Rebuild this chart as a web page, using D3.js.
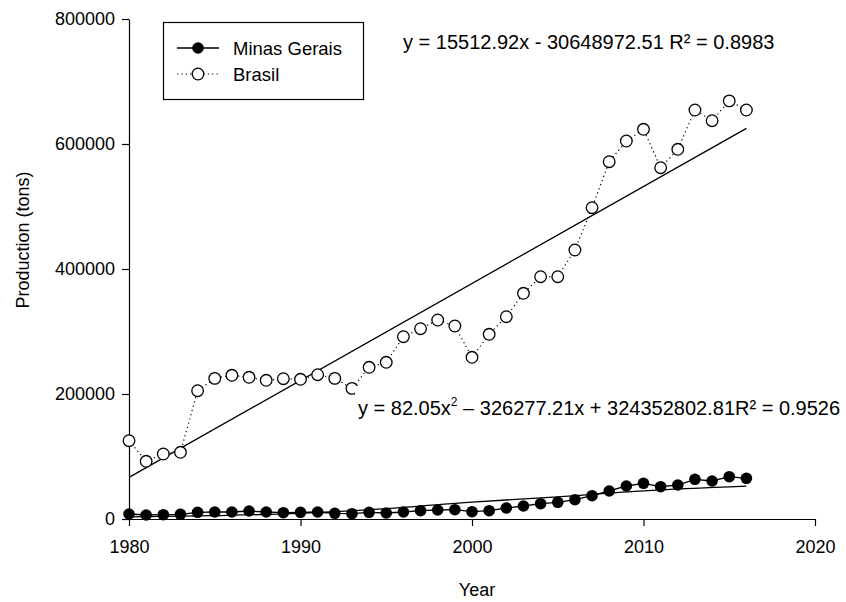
<!DOCTYPE html>
<html>
<head>
<meta charset="utf-8">
<script src="https://cdn.jsdelivr.net/npm/d3@7"></script>
<style>
  html, body { margin: 0; padding: 0; background: #fff; }
  svg { display: block; font-family: "Liberation Sans", Arial, sans-serif; }
</style>
</head>
<body>
<svg id="chart" width="846" height="602"></svg>
<script>
// ---- data ----
const years = [1980,1981,1982,1983,1984,1985,1986,1987,1988,1989,1990,1991,1992,1993,1994,1995,1996,1997,1998,1999,2000,2001,2002,2003,2004,2005,2006,2007,2008,2009,2010,2011,2012,2013,2014,2015,2016];
const minasGerais = [8000,6400,6900,7500,10700,11200,11200,12800,11200,10100,10700,11200,9100,8500,10700,9600,11200,13300,14400,14900,11700,13300,17600,20800,24500,26700,30900,37300,44800,52800,57100,51700,54400,63500,60800,67700,65100];
const brasil = [125300,92300,104000,106700,205300,225000,229900,226700,221900,224500,223500,230900,225000,209000,242700,250700,291700,304500,318400,308800,258700,295500,323700,361100,387700,387700,430400,498100,571700,604800,623500,562100,591500,654400,637300,669000,654400];
// fitted curves as drawn in the picture
const brasilFitYears = [1980, 2016];
const brasilFitValues = [66600, 625100];
const mgFitYears = [1980, 1985, 1990, 1995, 2000, 2005, 2010, 2016];
const mgFitValues = [3500, 5500, 9000, 16500, 27000, 35500, 45000, 52500];
const xTicks = [1980, 1990, 2000, 2010, 2020];
const yTicks = [0, 200000, 400000, 600000, 800000];
const seriesNames = ["Minas Gerais", "Brasil"];
const eqBrasil = "y = 15512.92x - 30648972.51 R² = 0.8983";
const eqMG = ["y = 82.05x", "2", " – 326277.21x + 324352802.81R² = 0.9526"];

// ---- layout ----
const svg = d3.select("#chart");
const x = d3.scaleLinear().domain([1980, 2020]).range([129, 815]);
const y = d3.scaleLinear().domain([0, 800000]).range([519, 19]);
const ink = "#000";

// axes
const yAxis = d3.axisLeft(y).tickValues(yTicks).tickFormat(d3.format("d")).tickSize(7).tickSizeOuter(0).tickPadding(7);
const xAxis = d3.axisBottom(x).tickValues(xTicks).tickFormat(d3.format("d")).tickSize(7).tickSizeOuter(0).tickPadding(14);

const gy = svg.append("g").attr("transform", `translate(${x.range()[0]},0)`).call(yAxis);
const gx = svg.append("g").attr("transform", `translate(0,${y.range()[0]})`).call(xAxis);
[gx, gy].forEach(g => {
  g.selectAll("path, line").attr("stroke", ink).attr("stroke-width", 1.2);
  g.selectAll("text").attr("fill", ink).style("font-size", "18px").style("font-family", '"Liberation Sans", Arial, sans-serif');
});

// axis titles
svg.append("text").attr("x", 477).attr("y", 596)
  .attr("text-anchor", "middle").style("font-size", "18px").text("Year");
svg.append("text").attr("transform", `translate(29,240) rotate(-90)`)
  .attr("text-anchor", "middle").style("font-size", "18px").text("Production (tons)");

// fitted lines
const lineGen = d3.line().x(d => x(d[0])).y(d => y(d[1]));
svg.append("path").datum(brasilFitYears.map((yr, i) => [yr, brasilFitValues[i]]))
  .attr("d", lineGen).attr("fill", "none").attr("stroke", ink).attr("stroke-width", 1.3);
svg.append("path").datum(mgFitYears.map((yr, i) => [yr, mgFitValues[i]]))
  .attr("d", lineGen.curve(d3.curveMonotoneX)).attr("fill", "none").attr("stroke", ink).attr("stroke-width", 1.3);
lineGen.curve(d3.curveLinear);

// Brasil dotted series
const bData = years.map((yr, i) => [yr, brasil[i]]);
svg.append("path").datum(bData).attr("d", lineGen).attr("fill", "none")
  .attr("stroke", ink).attr("stroke-width", 1.2).attr("stroke-dasharray", "1.2,3.2");
svg.append("g").selectAll("circle").data(bData).join("circle")
  .attr("cx", d => x(d[0])).attr("cy", d => y(d[1])).attr("r", 5.8)
  .attr("fill", "#fff").attr("stroke", ink).attr("stroke-width", 1.3);

// Minas Gerais solid series
const mData = years.map((yr, i) => [yr, minasGerais[i]]);
svg.append("path").datum(mData).attr("d", lineGen).attr("fill", "none")
  .attr("stroke", ink).attr("stroke-width", 1.3);
svg.append("g").selectAll("circle").data(mData).join("circle")
  .attr("cx", d => x(d[0])).attr("cy", d => y(d[1])).attr("r", 5.8)
  .attr("fill", ink);

// equations
svg.append("text").attr("x", 403).attr("y", 49).style("font-size", "20px").attr("fill", ink).text(eqBrasil);
svg.append("rect").attr("x", 355).attr("y", 386).attr("width", 491).attr("height", 36).attr("fill", "#fff");
const t2 = svg.append("text").attr("x", 358).attr("y", 415).style("font-size", "20px").attr("fill", ink);
t2.append("tspan").text(eqMG[0]);
t2.append("tspan").attr("dy", -9).style("font-size", "12px").text(eqMG[1]);
t2.append("tspan").attr("dy", 9).text(eqMG[2]);

// legend
const lg = svg.append("g");
lg.append("rect").attr("x", 163.5).attr("y", 22.5).attr("width", 200).attr("height", 77)
  .attr("fill", "#fff").attr("stroke", ink).attr("stroke-width", 1.2);
const rows = [48, 74];
lg.append("line").attr("x1", 177).attr("x2", 219).attr("y1", rows[0]).attr("y2", rows[0]).attr("stroke", ink).attr("stroke-width", 1.3);
lg.append("circle").attr("cx", 198).attr("cy", rows[0]).attr("r", 5.8).attr("fill", ink);
lg.append("line").attr("x1", 177).attr("x2", 219).attr("y1", rows[1]).attr("y2", rows[1]).attr("stroke", ink).attr("stroke-width", 1.2).attr("stroke-dasharray", "1.2,3.2");
lg.append("circle").attr("cx", 198).attr("cy", rows[1]).attr("r", 5.8).attr("fill", "#fff").attr("stroke", ink).attr("stroke-width", 1.3);
seriesNames.forEach((n, i) => {
  lg.append("text").attr("x", 233).attr("y", rows[i] + 7).style("font-size", "18.5px").attr("fill", ink).text(n);
});
</script>
</body>
</html>
